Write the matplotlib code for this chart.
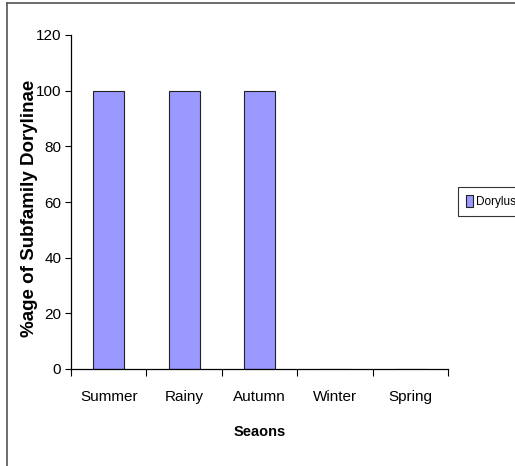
import matplotlib
matplotlib.use("Agg")
import matplotlib.pyplot as plt
from matplotlib.lines import Line2D
import numpy as np

seasons = ["Summer", "Rainy", "Autumn", "Winter", "Spring"]
dorylus = [100, 100, 100, 0, 0]
yticks = [0, 20, 40, 60, 80, 100, 120]

narrow = ["Liberation Sans Narrow", "Liberation Sans", "DejaVu Sans"]
bold = ["Liberation Sans", "DejaVu Sans"]

W, H = 515, 466
fig = plt.figure(figsize=(W / 100, H / 100), dpi=100)
ax = fig.add_axes([71 / W, 1 - 369 / H, (448 - 71) / W, (369 - 35) / H])

x = np.arange(len(seasons))
bars = ax.bar(x, dorylus, width=0.41, color="#9999FF", edgecolor="#222222",
              linewidth=0.8, label="Dorylus")
ax.set_xlim(-0.5, len(seasons) - 0.5)
ax.set_ylim(0, 120)
ax.set_yticks(yticks)
ax.set_yticklabels([str(v) for v in yticks], family=narrow, fontsize=11)
ax.set_xticks(x)
ax.set_xticklabels(seasons, family=narrow, fontsize=11)
ax.tick_params(axis="x", length=0, pad=15)
ax.set_xticks(np.arange(len(seasons) + 1) - 0.5, minor=True)
ax.tick_params(axis="x", which="minor", length=5, width=0.8)
ax.tick_params(axis="y", length=4, width=0.8, pad=3)
for s in ["top", "right"]:
    ax.spines[s].set_visible(False)
for s in ["left", "bottom"]:
    ax.spines[s].set_linewidth(0.9)
    ax.spines[s].set_color("black")

ax.set_xlabel("Seaons", family=bold, fontsize=10.5, fontweight="bold", va="center")
ax.xaxis.set_label_coords(0.501, -0.189)
ax.set_ylabel("%age of Subfamily Dorylinae", family=bold, fontsize=13.5,
              fontweight="bold", va="center")
ax.yaxis.set_label_coords(-0.111, 0.482)

leg = fig.legend(handles=[bars], labels=["Dorylus"], loc="upper left",
                 bbox_to_anchor=(458 / W, 1 - 187 / H), frameon=True,
                 fancybox=False, edgecolor="black", prop={"family": narrow, "size": 8.5},
                 handlelength=0.6, handleheight=1.1, handletextpad=0.25,
                 borderpad=0.7, borderaxespad=0)
leg.get_frame().set_linewidth(0.8)

# outer chart-area border (left and top edges visible in the cropped reference)
fig.add_artist(Line2D([7 / W, 7 / W], [0, 1 - 3 / H], transform=fig.transFigure,
                      color="#555555", linewidth=1.2))
fig.add_artist(Line2D([7 / W, 1], [1 - 3 / H, 1 - 3 / H], transform=fig.transFigure,
                      color="#555555", linewidth=1.2))

fig.savefig("out.png", dpi=100)
